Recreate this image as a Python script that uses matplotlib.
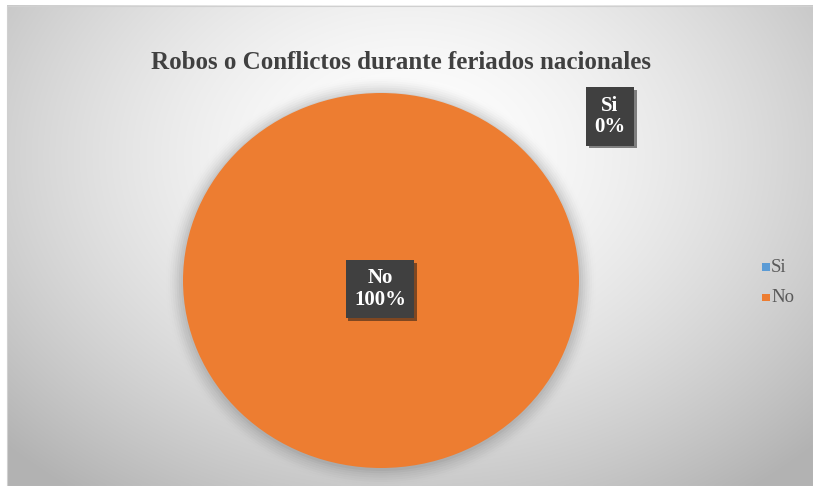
import numpy as np
import matplotlib.pyplot as plt
from matplotlib.patches import Ellipse, Rectangle
import matplotlib.patheffects as pe

# --- data ---
categories = ["Si", "No"]
values = [0, 100]
colors = ["#5B9BD5", "#ED7D31"]
title = "Robos o Conflictos durante feriados nacionales"

W, H = 813, 486
fig = plt.figure(figsize=(W / 100, H / 100), dpi=100)
fig.patch.set_facecolor("white")
ax = fig.add_axes([0, 0, 1, 1])
ax.set_xlim(0, W)
ax.set_ylim(0, H)
ax.axis("off")

# chart area with radial gradient (white centre, grey edges)
x0, y0 = 7, 0
yy, xx = np.mgrid[0:480:1j * 240, 0:806:1j * 400]
r = np.sqrt(((xx - 403) / 560) ** 2 + ((yy - 330) / 420) ** 2)
g = 1.0 - 0.30 * np.clip(r, 0, 1) ** 1.6
img = np.dstack([g, g, g])
ax.imshow(img, extent=(x0, W, y0, H - 6), origin="lower", zorder=0,
          interpolation="bicubic", aspect="auto")
ax.add_patch(Rectangle((x0, y0), W - x0, H - 6 - y0, fill=False,
                       edgecolor="#d0d0d0", lw=0.8, zorder=1))

# pie (slightly squashed, as in the original image)
cx, cy, rx, ry = 381, 205.5, 198, 187.5
for i, a in enumerate(np.linspace(0.10, 0.015, 8)):
    ax.add_patch(Ellipse((cx, cy - 1), 2 * (rx + 2 + i * 2.2), 2 * (ry + 2 + i * 2.2),
                         color="black", alpha=a * 0.35, lw=0, zorder=2))
pax = fig.add_axes([(cx - rx) / W, (cy - ry) / H, 2 * rx / W, 2 * ry / H])
pax.pie(values, colors=colors, startangle=90, counterclock=False,
        radius=1, frame=True, wedgeprops=dict(linewidth=0))
pax.set_aspect("auto")
pax.set_xlim(-1, 1)
pax.set_ylim(-1, 1)
pax.axis("off")

# data labels (drawn on a top overlay axes)
lax = fig.add_axes([0, 0, 1, 1])
lax.set_xlim(0, W)
lax.set_ylim(0, H)
lax.axis("off")
box = dict(boxstyle="square,pad=0.4", facecolor="#404040", edgecolor="none")
shadow = [pe.withSimplePatchShadow(offset=(2, -2), alpha=0.5)]
label_pos = [(610, 369.5), (380, 197)]
for (lx, ly), cat, v in zip(label_pos, categories, values):
    t = lax.text(lx, ly, f"{cat}\n{v}%", ha="center", va="center",
                 family="Liberation Serif", fontweight="bold", fontsize=15,
                 color="white", linespacing=1.1, bbox=box, zorder=5)
    t.get_bbox_patch().set_path_effects(shadow)

# title
lax.text(401, 423, title, ha="center", va="center", family="Liberation Serif",
         fontweight="bold", fontsize=18, color="#404040", zorder=5)

# legend
for i, (cat, c) in enumerate(zip(categories, colors)):
    ly = 219 - i * 30
    lax.add_patch(Rectangle((762, ly - 4), 7.5, 7.5, facecolor=c, edgecolor="none", zorder=5))
    lax.text(771, ly, cat, ha="left", va="center", family="Liberation Serif",
             fontsize=13.5, color="#595959", zorder=5)

fig.savefig("out.png", dpi=100)
